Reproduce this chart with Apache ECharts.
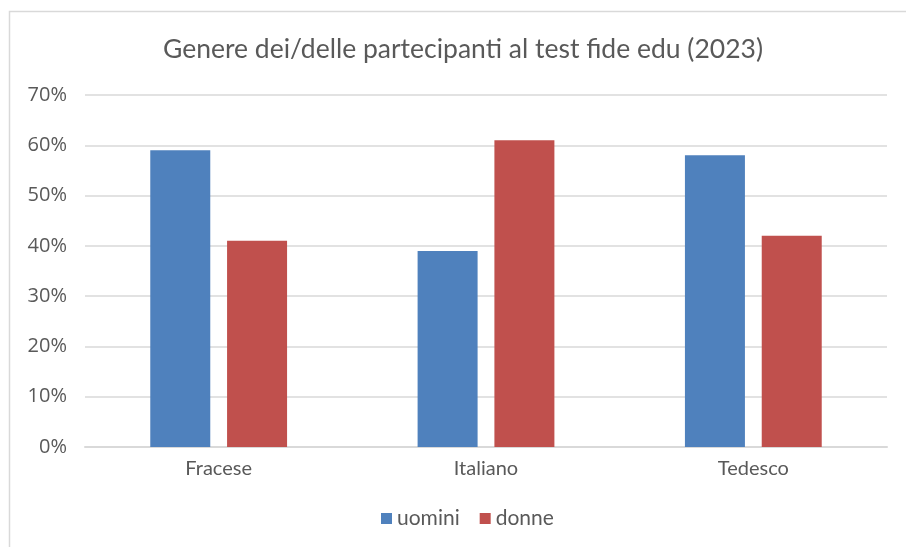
<!DOCTYPE html>
<html style="height: 100%; width:100%">
<head>
    <meta charset="utf-8">
    <script src="https://cdn.jsdelivr.net/npm/echarts@6/dist/echarts.min.js"></script>
</head>
<body style="height: 100%; width: 100%; margin: 0; background:#fff;">
<div id="container" style="width:906px;height:547px"></div>
<script type="text/javascript">
var categories = ["Fracese", "Italiano", "Tedesco"];
var uomini = [59, 39, 58];
var donne = [41, 61, 42];
var yTicks = [0, 10, 20, 30, 40, 50, 60, 70];

var myChart = echarts.init(document.getElementById("container"));
var font = "Lato";
var option = {
    animation: false,
    textStyle: { fontFamily: font },
    graphic: [{
        type: "rect",
        shape: { x: 9.5, y: 11.5, width: 1000, height: 1000 },
        style: { fill: "none", stroke: "#d9d9d9", lineWidth: 1.5 },
        silent: true
    }],
    title: {
        text: "Genere dei/delle partecipanti al test fide edu (2023)",
        left: 458, top: 31, textAlign: "center",
        textStyle: { color: "#595959", fontSize: 26.5, fontWeight: "normal", fontFamily: font }
    },
    legend: {
        bottom: 13, left: 376,
        itemWidth: 11, itemHeight: 11, itemGap: 20,
        icon: "rect",
        textStyle: { color: "#595959", fontSize: 21, fontFamily: font }
    },
    grid: { left: 85, right: 19, top: 95, bottom: 100 },
    xAxis: {
        type: "category",
        data: categories,
        axisLine: { lineStyle: { color: "#d9d9d9", width: 2 } },
        axisTick: { show: false },
        axisLabel: { color: "#595959", fontSize: 20, margin: 12, fontFamily: font }
    },
    yAxis: {
        type: "value",
        min: yTicks[0], max: yTicks[yTicks.length - 1], interval: 10,
        axisLine: { show: false },
        axisTick: { show: false },
        splitLine: { lineStyle: { color: "#d9d9d9", width: 1.5 } },
        axisLabel: { color: "#595959", fontSize: 20, margin: 18, fontFamily: "Open Sans",
            formatter: function (v) { return v + "%"; } }
    },
    series: [{
        name: "uomini", type: "bar", data: uomini,
        barWidth: 60, barGap: "28%",
        itemStyle: { color: "#4f81bd" }
    }, {
        name: "donne", type: "bar", data: donne,
        barWidth: 60,
        itemStyle: { color: "#c0504d" }
    }]
};
myChart.setOption(option);
</script>
</body>
</html>
